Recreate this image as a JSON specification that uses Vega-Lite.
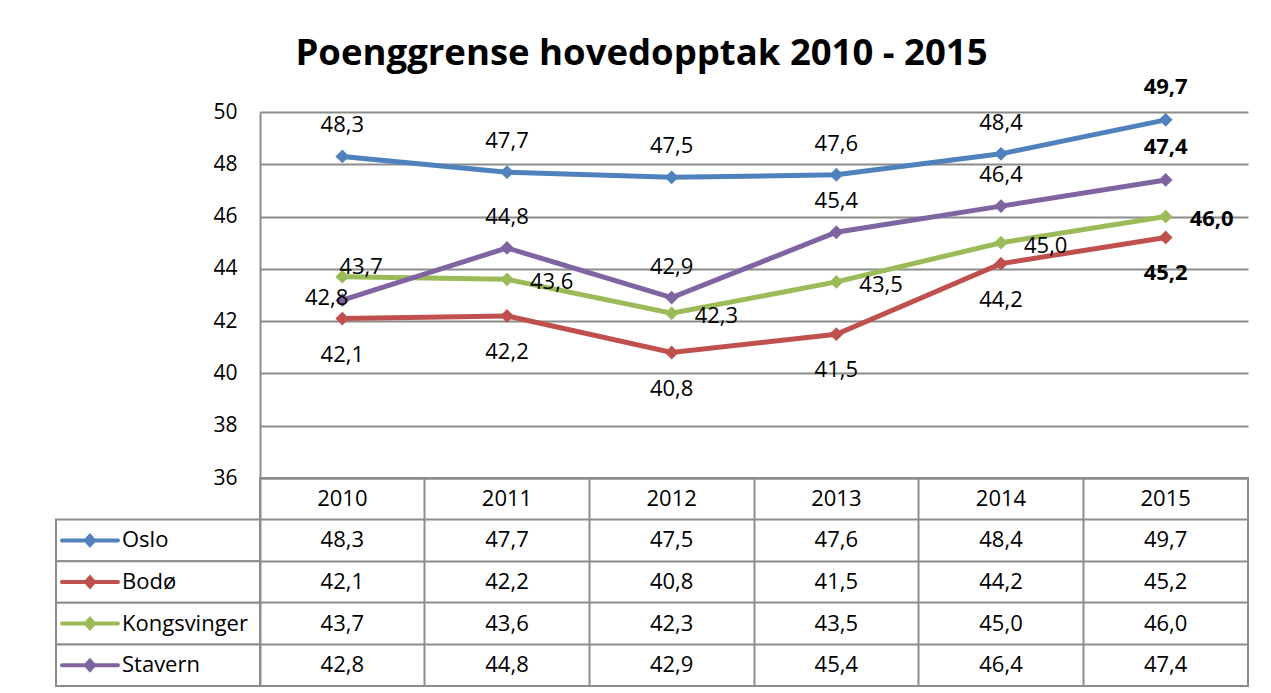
{
  "$schema": "https://vega.github.io/schema/vega-lite/v6.json",
  "padding": {"left": 54, "top": 36, "right": 20, "bottom": 0},
  "config": {
    "font": "Open Sans",
    "locale": {"number": {"decimal": ",", "thousands": "\u00a0", "grouping": [3], "currency": ["", " kr"]}},
    "view": {"stroke": null},
    "text": {"font": "Open Sans", "fontSize": 22, "color": "#000000"}
  },
  "title": {"text": "Poenggrense hovedopptak 2010 - 2015", "fontSize": 36.5, "fontWeight": "bold", "font": "Open Sans", "color": "#000000", "anchor": "middle", "dx": -10, "offset": 3},
  "datasets": {
    "d": [
      {"series": "Oslo", "year": "2010", "value": 48.3},
      {"series": "Oslo", "year": "2011", "value": 47.7},
      {"series": "Oslo", "year": "2012", "value": 47.5},
      {"series": "Oslo", "year": "2013", "value": 47.6},
      {"series": "Oslo", "year": "2014", "value": 48.4},
      {"series": "Oslo", "year": "2015", "value": 49.7},
      {"series": "Bodø", "year": "2010", "value": 42.1},
      {"series": "Bodø", "year": "2011", "value": 42.2},
      {"series": "Bodø", "year": "2012", "value": 40.8},
      {"series": "Bodø", "year": "2013", "value": 41.5},
      {"series": "Bodø", "year": "2014", "value": 44.2},
      {"series": "Bodø", "year": "2015", "value": 45.2},
      {"series": "Kongsvinger", "year": "2010", "value": 43.7},
      {"series": "Kongsvinger", "year": "2011", "value": 43.6},
      {"series": "Kongsvinger", "year": "2012", "value": 42.3},
      {"series": "Kongsvinger", "year": "2013", "value": 43.5},
      {"series": "Kongsvinger", "year": "2014", "value": 45.0},
      {"series": "Kongsvinger", "year": "2015", "value": 46.0},
      {"series": "Stavern", "year": "2010", "value": 42.8},
      {"series": "Stavern", "year": "2011", "value": 44.8},
      {"series": "Stavern", "year": "2012", "value": 42.9},
      {"series": "Stavern", "year": "2013", "value": 45.4},
      {"series": "Stavern", "year": "2014", "value": 46.4},
      {"series": "Stavern", "year": "2015", "value": 47.4}
    ]
  },
  "data": {"name": "d"},
  "columns": 2,
  "spacing": 0,
  "bounds": "flush",
  "resolve": {"scale": {"x": "independent", "y": "independent"}},
  "concat": [
    {
      "width": 204,
      "height": 366,
      "view": {"stroke": null},
      "data": {"values": []},
      "mark": "point",
      "encoding": {}
    },
    {
      "width": 988,
      "height": 366,
      "view": {"stroke": null},
      "encoding": {
        "x": {"field": "year", "type": "ordinal", "scale": {"type": "point", "padding": 0.5}, "axis": null},
        "y": {
          "field": "value", "type": "quantitative",
          "scale": {"domain": [36, 50], "nice": false, "zero": false},
          "axis": {"values": [36, 38, 40, 42, 44, 46, 48, 50], "title": null, "grid": true, "gridColor": "#8c8c8c", "gridWidth": 2, "domainColor": "#8c8c8c", "domainWidth": 2, "ticks": false, "labelPadding": 23, "labelFontSize": 21, "labelColor": "#000000", "labelFont": "Open Sans", "format": "d"}
        }
      },
      "layer": [
        {
          "mark": {"type": "line", "strokeWidth": 5},
          "encoding": {"color": {"field": "series", "type": "nominal", "scale": {"domain": ["Oslo", "Bodø", "Kongsvinger", "Stavern"], "range": ["#4f81bd", "#c0504d", "#9bbb59", "#8064a2"]}, "legend": null}}
        },
        {
          "mark": {"type": "point", "shape": "diamond", "filled": true, "size": 190, "opacity": 1},
          "encoding": {"color": {"field": "series", "type": "nominal", "scale": {"domain": ["Oslo", "Bodø", "Kongsvinger", "Stavern"], "range": ["#4f81bd", "#c0504d", "#9bbb59", "#8064a2"]}, "legend": null}}
        },
        {
          "transform": [{"filter": "(datum.series == 'Oslo' || (datum.series == 'Stavern' && datum.year != '2010')) && datum.year != '2015'"}],
          "mark": {"type": "text", "dy": -31},
          "encoding": {"text": {"field": "value", "type": "quantitative", "format": ".1f"}}
        },
        {
          "transform": [{"filter": "(datum.series == 'Oslo' || datum.series == 'Stavern') && datum.year == '2015'"}],
          "mark": {"type": "text", "dy": -33, "fontWeight": "bold"},
          "encoding": {"text": {"field": "value", "type": "quantitative", "format": ".1f"}}
        },
        {
          "transform": [{"filter": "datum.series == 'Bodø' && datum.year != '2015'"}],
          "mark": {"type": "text", "dy": 36},
          "encoding": {"text": {"field": "value", "type": "quantitative", "format": ".1f"}}
        },
        {
          "transform": [{"filter": "datum.series == 'Bodø' && datum.year == '2015'"}],
          "mark": {"type": "text", "dy": 36, "fontWeight": "bold"},
          "encoding": {"text": {"field": "value", "type": "quantitative", "format": ".1f"}}
        },
        {
          "transform": [{"filter": "datum.series == 'Kongsvinger' && datum.year != '2010' && datum.year != '2015'"}],
          "mark": {"type": "text", "align": "left", "dx": 23, "dy": 3},
          "encoding": {"text": {"field": "value", "type": "quantitative", "format": ".1f"}}
        },
        {
          "transform": [{"filter": "datum.series == 'Kongsvinger' && datum.year == '2015'"}],
          "mark": {"type": "text", "align": "left", "dx": 24, "dy": 2, "fontWeight": "bold"},
          "encoding": {"text": {"field": "value", "type": "quantitative", "format": ".1f"}}
        },
        {
          "transform": [{"filter": "datum.series == 'Kongsvinger' && datum.year == '2010'"}],
          "mark": {"type": "text", "align": "left", "dx": -3, "dy": -10},
          "encoding": {"text": {"field": "value", "type": "quantitative", "format": ".1f"}}
        },
        {
          "transform": [{"filter": "datum.series == 'Stavern' && datum.year == '2010'"}],
          "mark": {"type": "text", "align": "right", "dx": 6, "dy": -2},
          "encoding": {"text": {"field": "value", "type": "quantitative", "format": ".1f"}}
        }
      ]
    },
    {
      "width": 204,
      "height": 208,
      "view": {"stroke": null},
      "transform": [{"aggregate": [{"op": "count", "as": "n"}], "groupby": ["series"]}],
      "encoding": {
        "y": {"field": "series", "type": "nominal", "scale": {"type": "band", "domain": ["header", "Oslo", "Bodø", "Kongsvinger", "Stavern"], "paddingInner": 0, "paddingOuter": 0}, "axis": null}
      },
      "layer": [
        {"mark": {"type": "rect", "fill": "#ffffff", "stroke": "#8c8c8c", "strokeWidth": 2}},
        {
          "mark": {"type": "point", "shape": "M-9.6,0L-4,0M-7.2,0L-6.8,-0.45L-6.4,0L-6.8,0.45Z", "size": 400, "opacity": 1, "strokeWidth": 4, "strokeCap": "round"},
          "encoding": {
            "fill": {"field": "series", "type": "nominal", "scale": {"domain": ["Oslo", "Bodø", "Kongsvinger", "Stavern"], "range": ["#4f81bd", "#c0504d", "#9bbb59", "#8064a2"]}, "legend": null},
            "stroke": {"field": "series", "type": "nominal", "scale": {"domain": ["Oslo", "Bodø", "Kongsvinger", "Stavern"], "range": ["#4f81bd", "#c0504d", "#9bbb59", "#8064a2"]}, "legend": null}
          }
        },
        {
          "mark": {"type": "text", "align": "left", "dx": -36, "fontSize": 22},
          "encoding": {"text": {"field": "series", "type": "nominal"}}
        }
      ]
    },
    {
      "width": 988,
      "height": 208,
      "view": {"stroke": "#8c8c8c", "strokeWidth": 2},
      "encoding": {
        "x": {"field": "year", "type": "ordinal", "scale": {"type": "band", "paddingInner": 0, "paddingOuter": 0},
          "axis": {"grid": true, "gridColor": "#8c8c8c", "gridWidth": 2, "labels": false, "ticks": false, "domain": false, "title": null, "bandPosition": 0}}
      },
      "layer": [
        {
          "mark": {"type": "text", "fontSize": 22},
          "encoding": {
            "y": {"field": "series", "type": "nominal", "scale": {"type": "band", "domain": ["header", "Oslo", "Bodø", "Kongsvinger", "Stavern"], "paddingInner": 0, "paddingOuter": 0},
              "axis": {"grid": true, "gridColor": "#8c8c8c", "gridWidth": 2, "labels": false, "ticks": false, "domain": false, "title": null, "bandPosition": 0}},
            "text": {"field": "value", "type": "quantitative", "format": ".1f"}
          }
        },
        {
          "transform": [{"aggregate": [{"op": "count", "as": "n"}], "groupby": ["year"]}],
          "mark": {"type": "text", "fontSize": 22},
          "encoding": {
            "y": {"datum": "header", "type": "nominal",
              "axis": {"grid": true, "gridColor": "#8c8c8c", "gridWidth": 2, "labels": false, "ticks": false, "domain": false, "title": null, "bandPosition": 0}},
            "text": {"field": "year", "type": "nominal"}
          }
        }
      ]
    }
  ]
}
